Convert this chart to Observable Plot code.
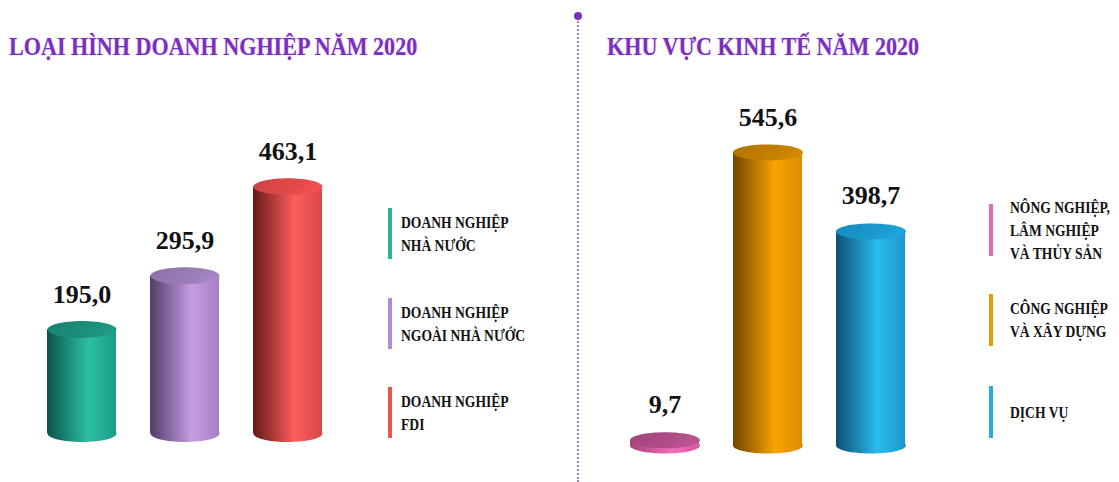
<!DOCTYPE html>
<html><head><meta charset="utf-8">
<script src="https://cdn.jsdelivr.net/npm/d3@7"></script>
<script src="https://cdn.jsdelivr.net/npm/@observablehq/plot@0.6"></script>
<style>
html,body{margin:0;padding:0;background:#fff;}
body{width:1119px;height:482px;overflow:hidden;position:relative;font-family:"Liberation Serif","Times New Roman",serif;}
.title{position:absolute;color:#7b2fbe;font-weight:bold;font-size:26px;line-height:1;white-space:nowrap;transform:scaleX(0.85);transform-origin:0 0;text-shadow:0 0 2px rgba(180,140,230,0.5);}
.leg{position:absolute;display:flex;align-items:center;}
.leg .bar{position:absolute;left:0;top:0;width:4px;height:100%;}
.leg .txt{font-weight:bold;font-size:16px;line-height:23px;color:#111;white-space:nowrap;transform:scaleX(0.85);transform-origin:0 50%;}
.divider{position:absolute;left:577px;top:18px;height:464px;border-left:2px dotted #a47ad8;}
.dot{position:absolute;left:574px;top:12px;width:8px;height:8px;border-radius:50%;background:#7b2fbe;}
</style></head>
<body>
<div class="title" id="t1" style="left:9px;top:34px;">LOẠI HÌNH DOANH NGHIỆP NĂM 2020</div>
<div class="title" id="t2" style="left:607px;top:34px;">KHU VỰC KINH TẾ NĂM 2020</div>
<div class="divider"></div><div class="dot"></div>
<script>
// ---- data ----
const leftCategories = ["DOANH NGHIỆP NHÀ NƯỚC", "DOANH NGHIỆP NGOÀI NHÀ NƯỚC", "DOANH NGHIỆP FDI"];
const leftValues = [195.0, 295.9, 463.1];
const leftLegendLines = [["DOANH NGHIỆP", "NHÀ NƯỚC"], ["DOANH NGHIỆP", "NGOÀI NHÀ NƯỚC"], ["DOANH NGHIỆP", "FDI"]];
const rightCategories = ["NÔNG NGHIỆP, LÂM NGHIỆP VÀ THỦY SẢN", "CÔNG NGHIỆP VÀ XÂY DỰNG", "DỊCH VỤ"];
const rightValues = [9.7, 545.6, 398.7];
const rightLegendLines = [["NÔNG NGHIỆP,", "LÂM NGHIỆP", "VÀ THỦY SẢN"], ["CÔNG NGHIỆP", "VÀ XÂY DỰNG"], ["DỊCH VỤ"]];
// colours: [dark edge, highlight, right edge, top cap, legend]
const leftColors = [
  ["#0b5549", "#2cc0a6", "#1c9c87", "#1d8f7c", "#2bb39b"],
  ["#4f3e66", "#c79be3", "#a680c2", "#9b7db8", "#b48ad6"],
  ["#641818", "#ff5d5d", "#d84646", "#e24a4a", "#f0524f"]
];
const rightColors = [
  ["#a8407a", "#f46cbc", "#d9589e", "#b04e88", "#e466ad"],
  ["#704300", "#f8a300", "#dd8c00", "#c48000", "#e89a00"],
  ["#0b5070", "#2abcf0", "#1b96c9", "#1a9ad0", "#22aee0"]
];

const fmt = v => v.toFixed(1).replace(".", ",");

function ellipseSymbol(rx, ry) {
  const k = 0.5522847;
  return {draw(ctx) {
    ctx.moveTo(-rx, 0);
    ctx.bezierCurveTo(-rx, -ry * k, -rx * k, -ry, 0, -ry);
    ctx.bezierCurveTo(rx * k, -ry, rx, -ry * k, rx, 0);
    ctx.bezierCurveTo(rx, ry * k, rx * k, ry, 0, ry);
    ctx.bezierCurveTo(-rx * k, ry, -rx, ry * k, -rx, 0);
    ctx.closePath();
  }};
}

function cylinders(id, cats, vals, colors, o) {
  const data = cats.map((c, i) => ({cat: c, value: vals[i], side: `url(#${id}s${i})`, top: `url(#${id}t${i})`}));
  const bw = o.bw;
  const svg = Plot.plot({
    width: o.width, height: o.height, margin: 0,
    style: {background: "transparent", overflow: "visible"},
    x: {type: "band", domain: cats, range: o.xr, padding: o.pad, axis: null},
    y: {domain: [0, 600], range: [o.base, o.base - 600 * o.k], axis: null},
    color: {type: "identity"},
    marks: [
      Plot.dot(data, {x: "cat", y: d => 0, fill: "side", r: 1, symbol: ellipseSymbol(bw / 2, o.ry)}),
      Plot.barY(data, {x: "cat", y: "value", fill: "side"}),
      Plot.dot(data, {x: "cat", y: "value", fill: "top", r: 1, symbol: ellipseSymbol(bw / 2, o.ry)}),
      Plot.text(data, {x: "cat", y: "value", text: d => fmt(d.value), dy: -27, lineAnchor: "bottom",
        fontSize: 26, fontWeight: "bold", fontFamily: "Liberation Serif", fill: "#111"})
    ]
  });
  const defs = d3.select(svg).insert("defs", ":first-child");
  colors.forEach((c, i) => {
    const g = defs.append("linearGradient").attr("id", `${id}s${i}`).attr("x1", 0).attr("x2", 1).attr("y1", 0).attr("y2", 0);
    g.append("stop").attr("offset", 0).attr("stop-color", c[0]);
    g.append("stop").attr("offset", 0.6).attr("stop-color", c[1]);
    g.append("stop").attr("offset", 1).attr("stop-color", c[2]);
    const t = defs.append("linearGradient").attr("id", `${id}t${i}`).attr("x1", 0).attr("x2", 1).attr("y1", 0).attr("y2", 0.3);
    t.append("stop").attr("offset", 0).attr("stop-color", d3.color(c[3]).darker(0.3));
    t.append("stop").attr("offset", 0.7).attr("stop-color", c[3]);
    t.append("stop").attr("offset", 1).attr("stop-color", d3.color(c[3]).brighter(0.2));
  });
  svg.style.position = "absolute";
  svg.style.left = o.left + "px";
  svg.style.top = o.top + "px";
  document.body.appendChild(svg);
}

function legend(lines, colors, o) {
  lines.forEach((ls, i) => {
    const d = document.createElement("div");
    d.className = "leg";
    d.style.left = o.x + "px"; d.style.top = o.tops[i] + "px"; d.style.height = o.h + "px";
    const b = document.createElement("div"); b.className = "bar"; b.style.background = colors[i][4];
    const t = document.createElement("div"); t.className = "txt"; t.style.marginLeft = o.gap + "px";
    t.innerHTML = ls.join("<br>");
    d.appendChild(b); d.appendChild(t);
    document.body.appendChild(d);
  });
}

cylinders("L", leftCategories, leftValues, leftColors,
  {left: 0, top: 60, width: 370, height: 410, base: 373, k: 0.533, xr: [13, 356], pad: 0.33, bw: 69, ry: 8.5});
cylinders("R", rightCategories, rightValues, rightColors,
  {left: 580, top: 60, width: 380, height: 410, base: 385, k: 0.537, xr: [15, 361], pad: 0.327, bw: 70, ry: 8});
legend(leftLegendLines, leftColors, {x: 388, tops: [208, 298, 387], h: 51, gap: 13});
legend(rightLegendLines, rightColors, {x: 989, tops: [204, 294, 386], h: 52, gap: 21});
</script>
</body></html>
